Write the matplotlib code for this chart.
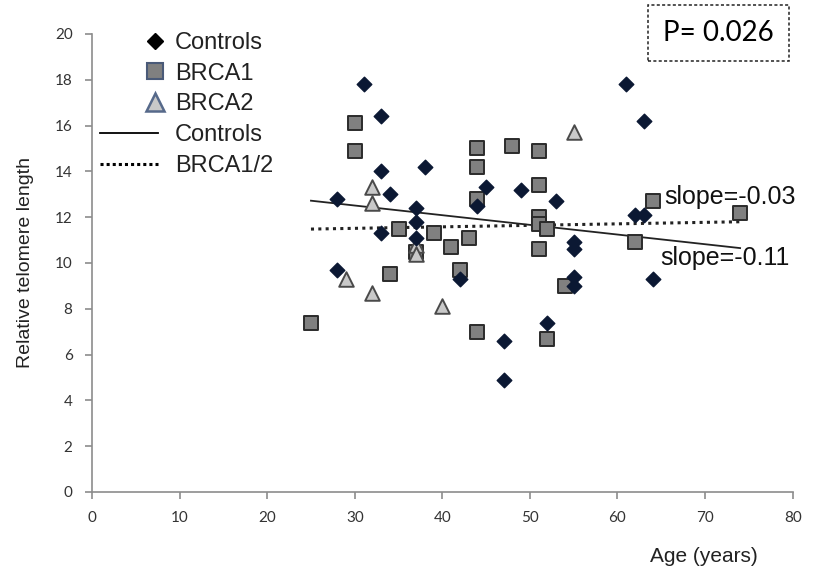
import matplotlib.pyplot as plt
from matplotlib.lines import Line2D
from matplotlib.legend_handler import HandlerLine2D

# ages and relative telomere length per group
ctrl_age = [28, 28, 31, 33, 33, 34, 33, 38, 37, 37, 37, 42, 45, 44, 49, 47, 47,
            52, 53, 55, 55, 55, 55, 61, 63, 62, 63, 64]
ctrl_tl = [12.8, 9.7, 17.8, 16.4, 14.0, 13.0, 11.3, 14.2, 12.4, 11.8, 11.1, 9.3,
           13.3, 12.5, 13.2, 6.6, 4.9, 7.4, 12.7, 10.9, 10.6, 9.4, 9.0, 17.8, 16.2,
           12.1, 12.1, 9.3]

brca1_age = [25, 30, 30, 34, 35, 37, 39, 41, 42, 43, 44, 44, 44, 44, 48, 51, 51,
             51, 51, 52, 51, 52, 54, 62, 64, 74]
brca1_tl = [7.4, 16.1, 14.9, 9.5, 11.5, 10.5, 11.3, 10.7, 9.7, 11.1, 15.0, 14.2,
            12.8, 7.0, 15.1, 14.9, 13.4, 12.0, 11.7, 11.5, 10.6, 6.7, 9.0, 10.9,
            12.7, 12.2]

brca2_age = [32, 32, 37, 37, 29, 32, 40, 55]
brca2_tl = [13.3, 12.6, 10.8, 10.4, 9.3, 8.7, 8.1, 15.7]

# fitted trend lines (end points)
fit_age = [25, 74]
fit_ctrl = [12.72, 10.65]
fit_brca = [11.48, 11.80]

p_text = "P= 0.026"
slope_brca = "slope=-0.03"
slope_ctrl = "slope=-0.11"


class RightMarker(HandlerLine2D):
    # legend marker sits at the right end of the handle, not in the middle
    def get_xdata(self, legend, xdescent, ydescent, width, height, fontsize):
        m = width - xdescent - 0.12 * fontsize
        return [m - 1, m + 1], [m]


fig = plt.figure(figsize=(8.18, 5.71), dpi=100)
ax = fig.add_axes([0.1125, 0.1384, 0.8565, 0.8021])

ax.plot(fit_age, fit_ctrl, color="#222222", lw=1.3, zorder=2)
ax.plot(fit_age, fit_brca, color="#222222", lw=2.2, ls=(0, (1, 1.4)), zorder=2)

ax.scatter(brca1_age, brca1_tl, marker="s", s=110, c="#808080",
           edgecolors="#2b2b2b", linewidths=1.4, zorder=3)
ax.scatter(brca2_age, brca2_tl, marker="^", s=110, c="#c9c9c9",
           edgecolors="#4a4a4a", linewidths=1.4, zorder=3)
ax.scatter(ctrl_age, ctrl_tl, marker="D", s=55, c="#0b1833",
           edgecolors="#0b1833", zorder=4)

ax.set_xlim(0, 80)
ax.set_ylim(0, 20)
ax.set_xticks(range(0, 81, 10))
ax.set_yticks(range(0, 21, 2))
for s in ["top", "right"]:
    ax.spines[s].set_visible(False)
for s in ["left", "bottom"]:
    ax.spines[s].set_color("#8c8c8c")
    ax.spines[s].set_linewidth(1.2)
ax.tick_params(direction="out", length=5, width=1.2, color="#8c8c8c",
               labelsize=11, labelcolor="#333333", pad=9)
for lab in ax.get_xticklabels() + ax.get_yticklabels():
    lab.set_family("Lato")

ax.set_ylabel("Relative telomere length", fontsize=14, family="Liberation Sans",
              color="#222222", labelpad=15)
ax.set_xlabel("Age (years)", fontsize=15, family="Liberation Sans",
              color="#222222")
ax.xaxis.set_label_coords(0.873, -0.12)

# legend
h_ctrl = Line2D([], [], ls="none", marker="D", ms=8, color="black")
h_b1 = Line2D([], [], ls="none", marker="s", ms=11, mfc="#808080",
              mec="#4a5a78", mew=1.5)
h_b2 = Line2D([], [], ls="none", marker="^", ms=13, mfc="#c9c9c9",
              mec="#56698a", mew=1.8)
h_fit_c = Line2D([], [], color="black", lw=1.3)
h_fit_b = Line2D([], [], color="black", lw=2.2, ls=(0, (1, 1.0)))
handles = [h_ctrl, h_b1, h_b2, h_fit_c, h_fit_b]
labels = ["Controls", "BRCA1", "BRCA2", "Controls", "BRCA1/2"]
rm = RightMarker(numpoints=1)
leg = fig.legend(handles, labels, loc="upper left",
                 bbox_to_anchor=(100 / 818, 1 - 32 / 571), frameon=False,
                 handlelength=2.45, handletextpad=0.72, labelspacing=0.37,
                 borderpad=0, borderaxespad=0,
                 handler_map={h_ctrl: rm, h_b1: rm, h_b2: rm},
                 prop={"family": "Liberation Sans", "size": 17})
for t in leg.get_texts():
    t.set_color("#222222")

ax.text(71.5, 20.04, p_text, fontsize=20, family="Lato", va="center",
        ha="center", clip_on=False,
        bbox=dict(boxstyle="square,pad=0.55", fc="white", ec="#222222",
                  lw=1.1, ls=(0, (2, 1.5))))

ax.text(65.3, 12.88, slope_brca, fontsize=18, family="Liberation Sans",
        va="center", ha="left", color="#111111", zorder=5)
ax.text(64.9, 10.22, slope_ctrl, fontsize=18, family="Liberation Sans",
        va="center", ha="left", color="#111111", zorder=5)

fig.savefig("out.png", dpi=100)
